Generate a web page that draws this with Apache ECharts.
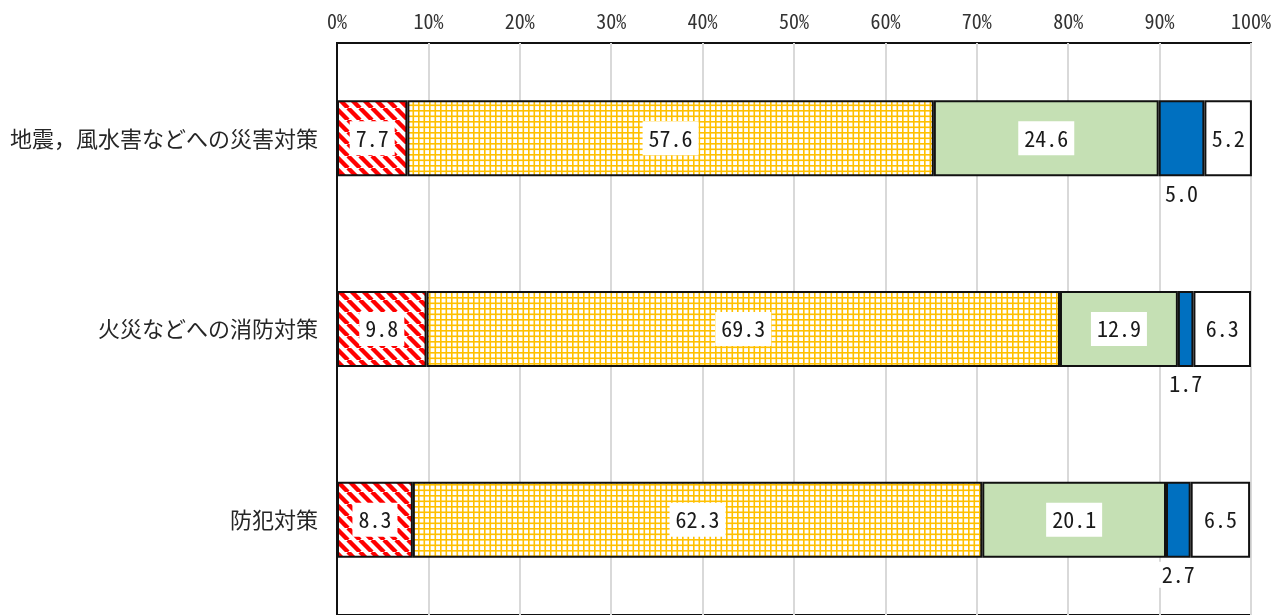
<!DOCTYPE html>
<html>
<head>
<meta charset="utf-8">
<script src="https://cdn.jsdelivr.net/npm/echarts@6/dist/echarts.min.js"></script>
<style>
  html, body { margin: 0; padding: 0; background: #ffffff; }
  #chart { width: 1283px; height: 615px; }
</style>
</head>
<body>
<div id="chart"></div>
<script>
// Survey categories (top to bottom)
const categories = ['地震，風水害などへの災害対策', '火災などへの消防対策', '防犯対策'];

// Stacked shares (%) per category, left to right
const seriesA = [7.7, 9.8, 8.3];
const seriesB = [57.6, 69.3, 62.3];
const seriesC = [24.6, 12.9, 20.1];
const seriesD = [5.0, 1.7, 2.7];
const seriesE = [5.2, 6.3, 6.5];

// Percent axis ticks
const tickMin = 0;
const tickMax = 100;
const tickStep = 10;

const monoFont = "'Noto Sans Mono CJK JP', 'Liberation Mono', 'DejaVu Sans Mono', monospace";
const jpFont = "'Noto Sans CJK JP', 'Noto Sans', sans-serif";

// Red diagonal hatching tile
function stripeTile() {
  const s = 12;
  const c = document.createElement('canvas');
  c.width = s; c.height = s;
  const g = c.getContext('2d');
  g.fillStyle = '#ffffff';
  g.fillRect(0, 0, s, s);
  g.strokeStyle = '#ff0000';
  g.lineWidth = 4.4;
  for (const k of [-s, 0, s]) {
    g.beginPath();
    g.moveTo(k, 0);
    g.lineTo(k + s, s);
    g.stroke();
  }
  return c;
}

// Orange small-grid tile
function gridTile() {
  const s = 11;
  const c = document.createElement('canvas');
  c.width = s; c.height = s;
  const g = c.getContext('2d');
  g.fillStyle = '#ffffff';
  g.fillRect(0, 0, s, s);
  g.fillStyle = '#ffc000';
  g.fillRect(0, 0, 1.6, s);
  g.fillRect(5.5, 0, 1.6, s);
  g.fillRect(0, 0, s, 1.6);
  g.fillRect(0, 5.5, s, 1.6);
  return c;
}

const fmt = p => p.value.toFixed(1);

const boxedLabel = {
  show: true,
  position: 'inside',
  formatter: fmt,
  fontFamily: monoFont,
  fontSize: 22,
  color: '#1a1a1a',
  backgroundColor: '#ffffff',
  padding: [6, 6, 6, 6]
};

function barSeries(data, fill, label) {
  return {
    type: 'bar',
    stack: 'total',
    data: data,
    barWidth: 76,
    itemStyle: { color: fill, borderColor: '#111111', borderWidth: 2 },
    label: label,
    emphasis: { disabled: true }
  };
}

const chart = echarts.init(document.getElementById('chart'), null, { renderer: 'canvas' });

chart.setOption({
  animation: false,
  backgroundColor: '#ffffff',
  grid: {
    left: 337, right: 32, top: 43, bottom: -2,
    show: true, borderColor: '#111111', borderWidth: 2, backgroundColor: 'transparent'
  },
  xAxis: {
    type: 'value',
    position: 'top',
    min: tickMin,
    max: tickMax,
    interval: tickStep,
    axisLine: { show: false },
    axisTick: { show: false },
    splitLine: { show: true, lineStyle: { color: '#d9d9d9', width: 2 } },
    axisLabel: {
      formatter: '{value}%',
      fontFamily: monoFont,
      fontSize: 20,
      color: '#333333',
      margin: 12
    }
  },
  yAxis: {
    type: 'category',
    inverse: true,
    data: categories,
    axisLine: { show: true, lineStyle: { color: '#111111', width: 2 } },
    axisTick: { show: false },
    axisLabel: {
      fontFamily: jpFont,
      fontSize: 22,
      color: '#262626',
      margin: 19
    }
  },
  series: [
    barSeries(seriesA, { image: stripeTile(), repeat: 'repeat' }, boxedLabel),
    barSeries(seriesB, { image: gridTile(), repeat: 'repeat' }, boxedLabel),
    barSeries(seriesC, '#c5e0b4', boxedLabel),
    barSeries(seriesD, '#0070c0', {
      show: true,
      position: 'bottom',
      distance: 4,
      formatter: fmt,
      fontFamily: monoFont,
      fontSize: 22,
      color: '#1a1a1a',
      backgroundColor: '#ffffff',
      padding: [2, 3, 2, 3]
    }),
    barSeries(seriesE, '#ffffff', {
      show: true,
      position: 'inside',
      formatter: fmt,
      fontFamily: monoFont,
      fontSize: 22,
      color: '#1a1a1a'
    })
  ]
});
</script>
</body>
</html>
